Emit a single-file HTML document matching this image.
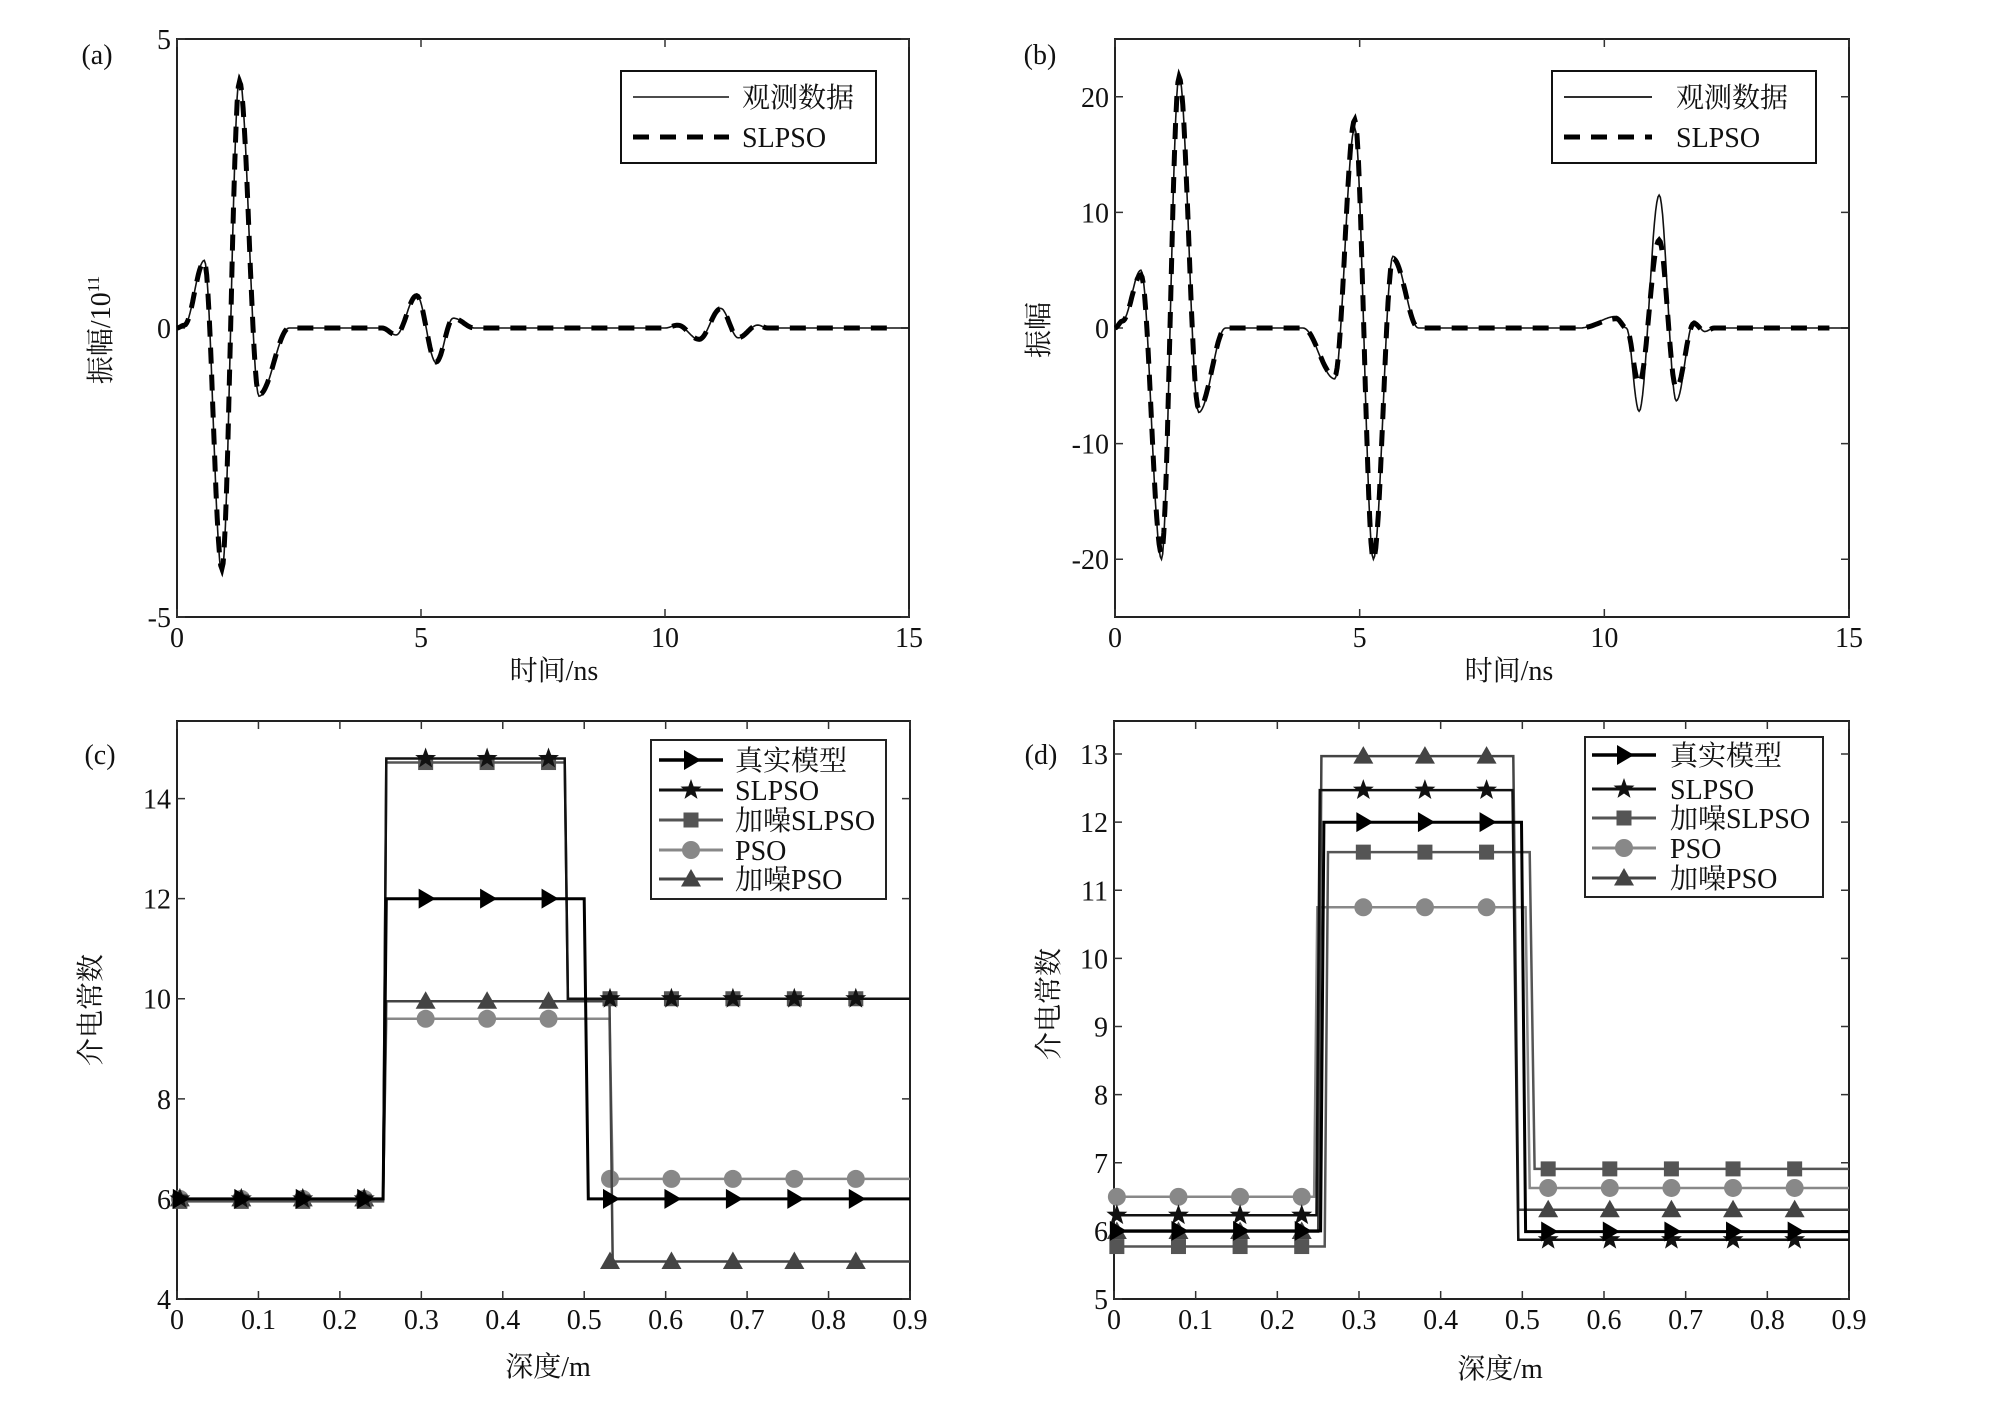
<!DOCTYPE html>
<html><head><meta charset="utf-8"><style>
html,body{margin:0;padding:0;background:#fff;}
svg text{font-family:"Liberation Serif","Noto Serif CJK SC",serif;fill:#111;}
</style></head><body>
<svg id="s" xmlns="http://www.w3.org/2000/svg" width="2008" height="1417" viewBox="0 0 2008 1417"></svg>
<script>
const S=document.getElementById('s');let h='';
const FF=`font-family="Liberation Serif, Noto Serif CJK SC, serif"`;
function T(x,y,t,o){o=o||{};h+=`<text ${FF} x="${x}" y="${y}" font-size="${o.fs||28}" text-anchor="${o.a||'middle'}" ${o.tr?`transform="${o.tr}"`:''}>${t}</text>`;}
function axes(P){const{x0,x1,y0,y1,xt,yt,xm,ym}=P;
 const X=v=>x0+(v-xm[0])/(xm[1]-xm[0])*(x1-x0),Y=v=>y1-(v-ym[0])/(ym[1]-ym[0])*(y1-y0);
 h+=`<rect x="${x0}" y="${y0}" width="${x1-x0}" height="${y1-y0}" fill="none" stroke="#222" stroke-width="2"/>`;
 xt.forEach(v=>{const x=X(v);h+=`<path d="M${x} ${y1}V${y1-8}M${x} ${y0}V${y0+8}" stroke="#333" stroke-width="1.5"/>`;T(x,y1+30,v);});
 yt.forEach(v=>{const y=Y(v);h+=`<path d="M${x0} ${y}H${x0+8}M${x1} ${y}H${x1-8}" stroke="#333" stroke-width="1.5"/>`;T(x0-6,y+10,v,{a:'end'});});
 return[X,Y];}
function wave(pts){
 const out=[];for(let i=0;i<pts.length-1;i++){const[a,va]=pts[i],[b,vb]=pts[i+1];const n=Math.max(2,Math.ceil((b-a)*40));for(let k=0;k<n;k++){const t=k/n,m=(1-Math.cos(Math.PI*t))/2;out.push([a+(b-a)*t,va+(vb-va)*m]);}}
 out.push(pts[pts.length-1]);return out;}
function pl(arr,X,Y,st){h+=`<polyline points="${arr.map(p=>X(p[0]).toFixed(1)+','+Y(p[1]).toFixed(1)).join(' ')}" fill="none" ${st}/>`;}
// (a)
let [X,Y]=axes({x0:177,x1:909,y0:39,y1:617,xm:[0,15],ym:[-5,5],xt:[0,5,10,15],yt:[-5,0,5]});
const A=[[0,0],[0.15,0.05],[0.56,1.17],[0.92,-4.25],[1.28,4.35],[1.68,-1.18],[2.3,0],[4.2,0],[4.49,-0.12],[4.91,0.57],[5.31,-0.6],[5.66,0.17],[6.1,0],[10.0,0],[10.26,0.05],[10.7,-0.2],[11.14,0.34],[11.5,-0.17],[11.9,0.05],[12.1,0],[15,0]];
pl(wave(A),X,Y,'stroke="#111" stroke-width="1.6"');
pl(wave(A.map(p=>[p[0],p[1]*0.98])).filter(p=>p[0]<=14.6),X,Y,'stroke="#000" stroke-width="5" stroke-dasharray="16 11"');
h+=`<rect x="621" y="71" width="255" height="92" fill="#fff" stroke="#111" stroke-width="2"/>`;
h+=`<path d="M633 97H729" stroke="#111" stroke-width="1.6"/><path d="M633 137H729" stroke="#000" stroke-width="5" stroke-dasharray="16 11"/>`;
T(742,107,'观测数据',{a:'start'});T(742,147,'SLPSO',{a:'start'});
T(97,64,'(a)');T(554,680,'时间/ns');
h+=`<text ${FF} x="0" y="0" font-size="28" text-anchor="middle" transform="translate(110,330) rotate(-90)">振幅/10<tspan font-size="17" dy="-11">11</tspan></text>`;
// (b)
[X,Y]=axes({x0:1115,x1:1849,y0:39,y1:617,xm:[0,15],ym:[-25,25],xt:[0,5,10,15],yt:[-20,-10,0,10,20]});
const B=[[0,0],[0.15,0.6],[0.53,5],[0.95,-20],[1.31,21.9],[1.71,-7.3],[2.26,0],[3.84,0],[4.49,-4.4],[4.9,17.3],[5.28,-20],[5.68,6.2],[6.2,0],[9.5,0],[10.25,1],[10.45,0],[10.71,-7.2],[11.12,11.5],[11.47,-6.3],[11.83,0.6],[12.05,-0.3],[12.25,0],[15,0]];
const Bd=[[0,0],[0.15,0.6],[0.53,4.6],[0.95,-19.5],[1.31,21.7],[1.71,-7],[2.26,0],[3.84,0],[4.49,-4.2],[4.9,18],[5.28,-20],[5.68,6],[6.2,0],[9.5,0],[10.25,0.8],[10.45,0],[10.71,-4.8],[11.12,7.6],[11.47,-5.2],[11.83,0.4],[12.05,-0.3],[12.25,0],[15,0]];
pl(wave(B),X,Y,'stroke="#111" stroke-width="1.6"');
pl(wave(Bd).filter(p=>p[0]<=14.6),X,Y,'stroke="#000" stroke-width="5" stroke-dasharray="16 11"');
h+=`<rect x="1552" y="71" width="264" height="92" fill="#fff" stroke="#111" stroke-width="2"/>`;
h+=`<path d="M1564 97H1652" stroke="#111" stroke-width="1.8"/><path d="M1564 137H1652" stroke="#000" stroke-width="5" stroke-dasharray="16 11"/>`;
T(1676,107,'观测数据',{a:'start'});T(1676,147,'SLPSO',{a:'start'});
T(1040,64,'(b)');T(1509,680,'时间/ns');T(0,0,'振幅',{tr:'translate(1048,330) rotate(-90)'});
function mk(type,x,y,c,r){r=r||10;
 if(type=='r')h+=`<polygon points="${x-r*0.7},${y-r} ${x+r},${y} ${x-r*0.7},${y+r}" fill="${c}"/>`;
 else if(type=='s')h+=`<rect x="${x-r*0.75}" y="${y-r*0.75}" width="${r*1.5}" height="${r*1.5}" fill="${c}"/>`;
 else if(type=='c')h+=`<circle cx="${x}" cy="${y}" r="${r*0.9}" fill="${c}"/>`;
 else if(type=='t')h+=`<polygon points="${x},${y-r} ${x+r},${y+r*0.75} ${x-r},${y+r*0.75}" fill="${c}"/>`;
 else if(type=='k'){let p=[];for(let i=0;i<10;i++){const a=-Math.PI/2+i*Math.PI/5,rr=i%2?r*0.45:r*1.1;p.push((x+rr*Math.cos(a)).toFixed(1)+','+(y+rr*Math.sin(a)).toFixed(1));}h+=`<polygon points="${p.join(' ')}" fill="${c}"/>`;}}
const MX=[];for(let i=0;i<12;i++)MX.push(0.0035+i*0.07545);
function step(X,Y,s){
 const pts=[[0,s.l],[s.u,s.l],[s.u+0.004,s.m],[s.d1,s.m],[s.d2,s.r],[0.9,s.r]];
 pl(pts,X,Y,`stroke="${s.c}" stroke-width="${s.w}"`);
 MX.forEach(x=>{const v=x<s.u?s.l:(x<s.d1?s.m:s.r);mk(s.t,X(x),Y(v),s.c);});}
function legend(x,y,w,hh,rows,lx,tx,items){
 h+=`<rect x="${x}" y="${y}" width="${w}" height="${hh}" fill="#fff" stroke="#222" stroke-width="2"/>`;
 items.forEach((it,i)=>{const yy=rows[i];h+=`<path d="M${lx} ${yy}H${lx+64}" stroke="${it.c}" stroke-width="${it.w}"/>`;mk(it.t,lx+32,yy,it.c);T(tx,yy+10,it.n,{a:'start'});});}
const items=[{n:'真实模型',c:'#000',w:3.5,t:'r'},{n:'SLPSO',c:'#111',w:3,t:'k'},{n:'加噪SLPSO',c:'#555',w:3,t:'s'},{n:'PSO',c:'#888',w:3,t:'c'},{n:'加噪PSO',c:'#444',w:3,t:'t'}];
// (c)
[X,Y]=axes({x0:177,x1:910,y0:721,y1:1299,xm:[0,0.9],ym:[4,15.55],xt:[0,0.1,0.2,0.3,0.4,0.5,0.6,0.7,0.8,0.9],yt:[4,6,8,10,12,14]});
step(X,Y,{l:6,m:9.6,r:6.4,u:0.253,d1:0.531,d2:0.535,c:'#888',w:2.5,t:'c'});
step(X,Y,{l:6,m:9.95,r:4.75,u:0.253,d1:0.531,d2:0.535,c:'#444',w:2.5,t:'t'});
step(X,Y,{l:5.95,m:14.72,r:10,u:0.253,d1:0.476,d2:0.48,c:'#555',w:2.5,t:'s'});
step(X,Y,{l:6,m:14.8,r:10,u:0.253,d1:0.476,d2:0.48,c:'#111',w:2.5,t:'k'});
step(X,Y,{l:6,m:12,r:6,u:0.253,d1:0.5,d2:0.505,c:'#000',w:3,t:'r'});
legend(651,740,235,159,[760,790,820,850,879],659,735,items);
T(100,764,'(c)');T(548,1376,'深度/m');T(0,0,'介电常数',{tr:'translate(100,1010) rotate(-90)'});
// (d)
[X,Y]=axes({x0:1114,x1:1849,y0:721,y1:1299,xm:[0,0.9],ym:[5,13.485],xt:[0,0.1,0.2,0.3,0.4,0.5,0.6,0.7,0.8,0.9],yt:[5,6,7,8,9,10,11,12,13]});
step(X,Y,{l:6.5,m:10.75,r:6.63,u:0.245,d1:0.504,d2:0.509,c:'#888',w:2.5,t:'c'});
step(X,Y,{l:5.77,m:11.56,r:6.91,u:0.258,d1:0.509,d2:0.515,c:'#555',w:2.5,t:'s'});
step(X,Y,{l:5.99,m:12.97,r:6.31,u:0.25,d1:0.489,d2:0.495,c:'#444',w:2.5,t:'t'});
step(X,Y,{l:6.23,m:12.47,r:5.87,u:0.248,d1:0.488,d2:0.495,c:'#111',w:2.5,t:'k'});
step(X,Y,{l:6,m:12,r:5.99,u:0.253,d1:0.499,d2:0.504,c:'#000',w:3,t:'r'});
legend(1585,737,238,160,[755,789,818,848,878],1592,1670,items);
T(1041,764,'(d)');T(1500,1378,'深度/m');T(0,0,'介电常数',{tr:'translate(1058,1004) rotate(-90)'});
S.innerHTML=h;
</script>
</body></html>
